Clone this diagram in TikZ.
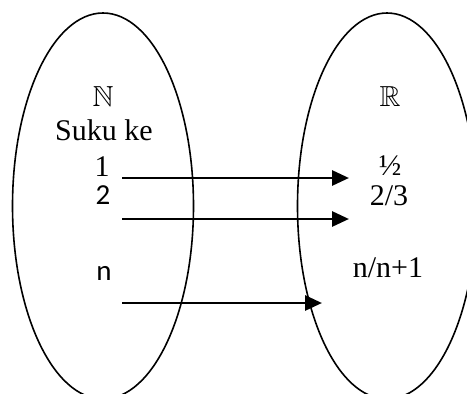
\documentclass[tikz,border=0pt]{standalone}
\usepackage{amssymb}
\usepackage{fontspec}
\setmainfont{Liberation Serif}
\newfontfamily\numfont{Carlito}
\usetikzlibrary{arrows.meta, shapes.geometric}
\tikzset{
  setBox/.style={ellipse, draw=black, line width=1.6pt, inner sep=0pt},
  termText/.style={font=\fontsize{30}{33}\selectfont},
  idxText/.style={font=\numfont\fontsize{29}{32}\selectfont},
  symText/.style={font=\fontsize{29}{32}\selectfont},
  mapArrow/.style={line width=2.9pt, -{Triangle[length=17pt, width=15pt]}}
}

\begin{document}
\begin{tikzpicture}[x=1pt, y=-1pt]
  \useasboundingbox (0,0) rectangle (467,394);
  \clip (0,0) rectangle (467,394);
  % the two sets
  \node[setBox, minimum width=181pt, minimum height=386pt] (setN) at (103,206) {};
  \node[setBox, minimum width=179pt, minimum height=386pt] (setR) at (387,206) {};

  % domain side
  \node[symText] (symN) at (103,97) {$\mathbb{N}$};
  \node[termText] (suku) at (104,130) {Suku ke};
  \node[termText] (one) at (102,167) {1};
  \node[idxText] (two) at (103,195) {2};
  \node[idxText] (enn) at (104,273) {n};

  % range side
  \node[symText] (symR) at (390,97) {$\mathbb{R}$};
  \node[termText] (half) at (390,166) {½};
  \node[termText] (twothird) at (389,196) {2/3};
  \node[termText] (nfrac) at (388,268) {n/n+1};

  % arrow ends
  \coordinate (from1) at (122,178);
  \coordinate (to1) at (349,178);
  \coordinate (from2) at (122,219);
  \coordinate (to2) at (349,219);
  \coordinate (from3) at (122,303);
  \coordinate (to3) at (322,303);

  \draw[mapArrow] (from1) -- (to1);
  \draw[mapArrow] (from2) -- (to2);
  \draw[mapArrow] (from3) -- (to3);
\end{tikzpicture}
\end{document}
